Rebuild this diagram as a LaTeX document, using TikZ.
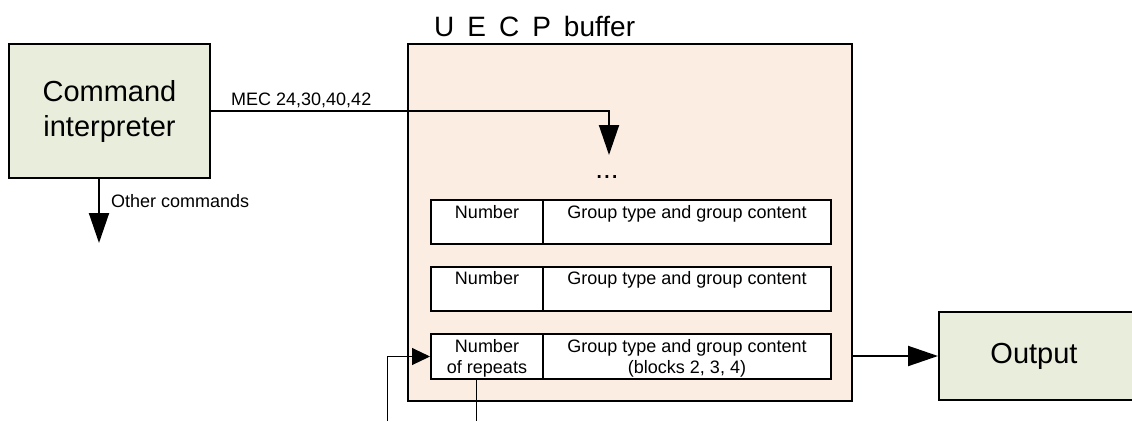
\documentclass[tikz,border=0pt]{standalone}
\usepackage{fontspec}
\setmainfont{Liberation Sans}
\usetikzlibrary{arrows.meta}
\definecolor{boxgreen}{RGB}{233,237,220}
\definecolor{bufpeach}{RGB}{252,237,226}
\begin{document}
\begin{tikzpicture}[x=1pt,y=-1pt,
  greenbox/.style={draw=black,line width=2pt,fill=boxgreen,inner sep=0pt},
  bufbox/.style={draw=black,line width=2pt,fill=bufpeach,inner sep=0pt},
  cellbox/.style={draw=black,line width=2pt,fill=white,inner sep=0pt},
  smalltxt/.style={inner sep=0pt,font=\fontsize{18}{21}\selectfont,align=center},
  bigtxt/.style={inner sep=0pt,font=\fontsize{29}{35}\selectfont,align=center},
  conn/.style={line width=2pt,-{Triangle[length=30pt,width=20pt]}},
  thinconn/.style={line width=1pt,-{Triangle[length=18pt,width=17pt]}},
  thinline/.style={line width=1pt}]
\useasboundingbox (0,0) rectangle (1132,421);
\clip (0,0) rectangle (1132,421);
% command interpreter
\node[greenbox,bigtxt,minimum width=201pt,minimum height=134pt] (cmd) at (109.5,111) {Command\\interpreter};
% buffer
\node[bufbox,minimum width=444pt,minimum height=357pt] (buf) at (630,222.5) {};
\node[inner sep=0pt,font=\fontsize{28}{34}\selectfont,anchor=base west] (title) at (434,36) {U\hspace{13pt}E\hspace{13pt}C\hspace{13pt}P\hspace{13pt}buffer};
\node[inner sep=0pt,font=\fontsize{28}{34}\selectfont,anchor=base] (dots) at (607,178) {...};
% rows
\node[cellbox,minimum width=112pt,minimum height=44pt] (num1) at (487,222) {};
\node[cellbox,minimum width=288pt,minimum height=44pt] (grp1) at (687,222) {};
\node[cellbox,minimum width=112pt,minimum height=44pt] (num2) at (487,289) {};
\node[cellbox,minimum width=288pt,minimum height=44pt] (grp2) at (687,289) {};
\node[cellbox,minimum width=112pt,minimum height=45pt] (num3) at (487,356.5) {};
\node[cellbox,minimum width=288pt,minimum height=45pt] (grp3) at (687,356.5) {};
\node[smalltxt,anchor=base] (num1t) at (487,218) {Number};
\node[smalltxt,anchor=base] (grp1t) at (687,218) {Group type and group content};
\node[smalltxt,anchor=base] (num2t) at (487,284) {Number};
\node[smalltxt,anchor=base] (grp2t) at (687,284) {Group type and group content};
\node[smalltxt,anchor=base] (num3t) at (487,373) {Number\\of repeats};
\node[smalltxt,anchor=base] (grp3t) at (687,373) {Group type and group content\\(blocks 2, 3, 4)};
% output
\node[greenbox,minimum width=212pt,minimum height=88pt] (out) at (1045,356) {};
\node[bigtxt,anchor=base] (outlbl) at (1034,363) {Output};
% connectors
\coordinate (mectip) at (609,155);
\draw[conn] (cmd.east) -| (mectip);
\node[smalltxt,anchor=base west] (meclbl) at (231,105) {MEC 24,30,40,42};
\coordinate (octip) at (99,243);
\draw[conn] (cmd.south -| octip) -- (octip);
\node[smalltxt,anchor=base west] (oclbl) at (111,207) {Other commands};
\draw[conn] (out.west -| buf.east) -- (out.west);
\coordinate (fbin) at (387,421);
\draw[thinconn] (fbin) |- (num3.west);
\coordinate (fbout) at (476,421);
\draw[thinline] (num3.south -| fbout) -- (fbout);
\end{tikzpicture}
\end{document}
